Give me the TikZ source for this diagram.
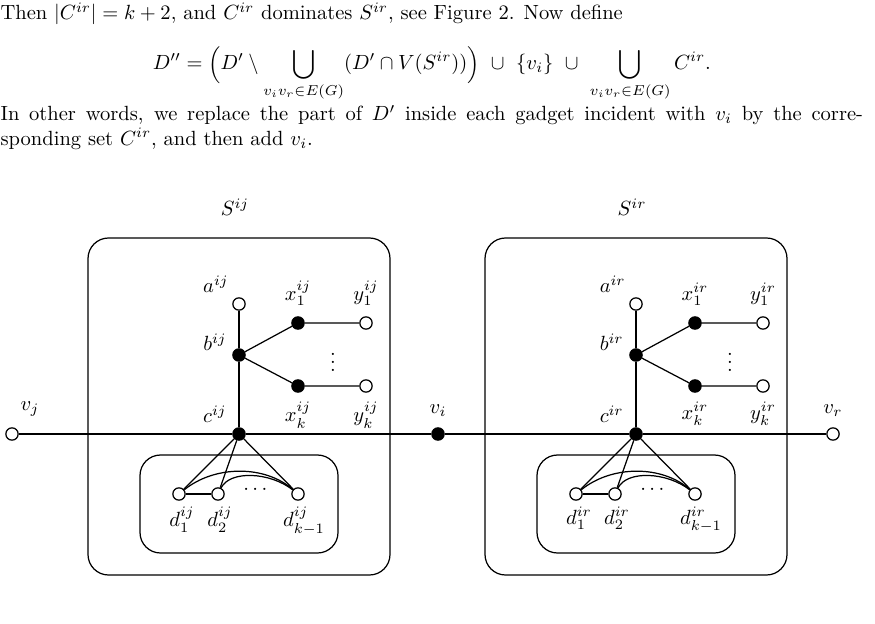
\documentclass[tikz,border=0pt]{standalone}
\usepackage{amsmath,amssymb}
\tikzset{every picture/.style={line width=0.6pt}}
\tikzset{
  open/.style={circle,draw,fill=white,inner sep=0pt,minimum size=6pt},
  full/.style={circle,draw,fill=black,inner sep=0pt,minimum size=6pt},
  gbox/.style={draw,rounded corners=10pt}
}
\begin{document}
\begin{tikzpicture}[x=0.487pt,y=0.487pt,yscale=-1,xscale=1]
    \useasboundingbox (0,0) rectangle (875,624);

    %Text above
    \node [anchor=north west,inner sep=0pt] (txt) at (0,2) {\begin{minipage}{420pt}
    \abovedisplayskip=9.5pt \belowdisplayskip=1pt
    \noindent Then $|C^{ir}|=k+2$, and $C^{ir}$ dominates $S^{ir}$, see Figure 2. Now define
    \[ D''=\Bigl(D'\setminus\bigcup_{v_iv_r\in E(G)}(D'\cap V(S^{ir}))\Bigr)\ \cup\ \{v_i\}\ \cup\ \bigcup_{v_iv_r\in E(G)}C^{ir}. \]
    In other words, we replace the part of $D'$ inside each gadget incident with $v_i$ by the corre-\linebreak sponding set $C^{ir}$, and then add $v_i$.
    \end{minipage}};

    %Main line
    \node [open] (vj) at (12,434) {};
    \node [full] (vi) at (438,434) {};
    \node [open] (vr) at (833,434) {};
    \node [anchor=south] at (30,424) {$v_j$};
    \node [anchor=south] at (438,424) {$v_i$};
    \node [anchor=south] at (833,424) {$v_r$};

    %Gadgets
    \foreach \dx/\s in {0/ij,397/ir}{
      \begin{scope}[xshift=\dx*0.487pt]
        \draw [gbox] (88,238) rectangle (390,575);
        \draw [gbox] (140,455) rectangle (338,553);
        \node at (235,207) {$S^{\s}$};
        \node [open] (a\s) at (239,304) {};
        \node [full] (b\s) at (239,355) {};
        \node [full] (x1\s) at (298,323) {};
        \node [open] (y1\s) at (366,323) {};
        \node [full] (xk\s) at (298,386) {};
        \node [open] (yk\s) at (366,386) {};
        \node [full] (c\s) at (239,434) {};
        \node [open] (d1\s) at (179,494) {};
        \node [open] (d2\s) at (218,494) {};
        \node [open] (dk\s) at (298,494) {};
        \draw (a\s) -- (b\s) -- (c\s);
        \draw (b\s) -- (x1\s) -- (y1\s);
        \draw (b\s) -- (xk\s) -- (yk\s);
        \draw (c\s) -- (d1\s);
        \draw (c\s) -- (d2\s);
        \draw (c\s) -- (dk\s);
        \draw (d1\s) -- (d2\s);
        \draw (d1\s) .. controls (215,465) and (265,465) .. (dk\s);
        \draw (d2\s) .. controls (230,470) and (270,472) .. (dk\s);
        \node at (257,490) {$\cdots$};
        \node at (333,356) {$\vdots$};
        \node [anchor=south east] at (236,300) {$a^{\s}$};
        \node [anchor=east] at (234,342) {$b^{\s}$};
        \node [anchor=south east] at (234,430) {$c^{\s}$};
        \node [anchor=south] at (298,313) {$x_1^{\s}$};
        \node [anchor=south] at (366,313) {$y_1^{\s}$};
        \node [anchor=north] at (298,395) {$x_k^{\s}$};
        \node [anchor=north] at (366,395) {$y_k^{\s}$};
        \node [anchor=north] at (182,500) {$d_1^{\s}$};
        \node [anchor=north] at (220,500) {$d_2^{\s}$};
        \node [anchor=north] at (304,500) {$d_{k-1}^{\s}$};
      \end{scope}
    }
    \draw (vj) -- (cij) -- (vi) -- (cir) -- (vr);
\end{tikzpicture}
\end{document}
